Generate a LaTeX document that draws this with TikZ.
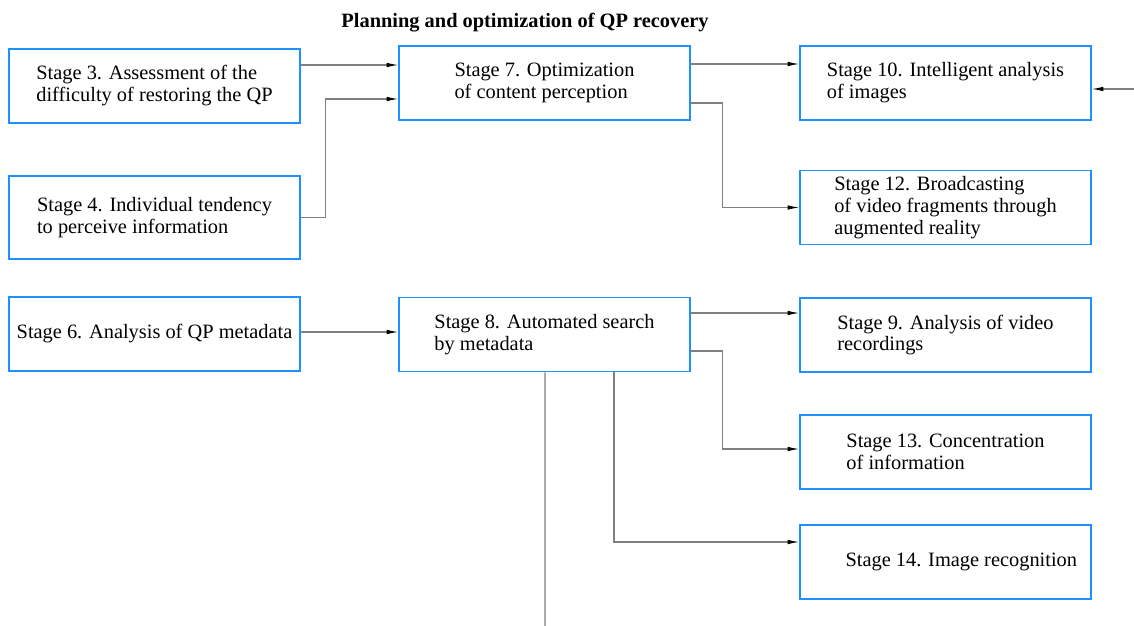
\documentclass[tikz,border=0pt]{standalone}
\usepackage{fontspec}
\setmainfont{Liberation Serif}
\usetikzlibrary{calc,arrows.meta}
\definecolor{boxblue}{RGB}{30,144,255}
\tikzset{
  stagebox/.style={draw=boxblue,line width=1pt,minimum width=5.82cm,minimum height=1.48cm,
    inner sep=0pt,align=left,font=\fontsize{11.6}{12.5}\selectfont},
  link/.style={draw=black!50,line width=0.6pt,-{Latex[length=6.5pt,width=2.6pt,color=black]}},
  plain/.style={draw=black!50,line width=0.6pt}
}

\begin{document}
\begin{tikzpicture}[x=0.02cm,y=-0.02cm]
  \useasboundingbox (0,0) rectangle (1134,626);
  \node[font=\fontsize{11.6}{12.5}\selectfont\bfseries] (title) at (525,22.5) {Planning and optimization of QP recovery};
  % left column
  \node[stagebox] (S3) at (154.5,86) {Stage 3. Assessment of the\\difficulty of restoring the QP};
  \node[stagebox,minimum height=1.66cm] (S4) at (154.5,217.5) {Stage 4. Individual tendency\\to perceive information};
  \node[stagebox] (S6) at (154.5,334) {Stage 6. Analysis of QP metadata};
  % middle column
  \node[stagebox] (S7) at (544.5,83) {Stage 7. Optimization\\of content perception};
  \node[stagebox] (S8) at (544.5,334.5) {Stage 8. Automated search\\by metadata};
  % right column
  \node[stagebox] (S10) at (945.5,83) {Stage 10. Intelligent analysis\\of images};
  \node[stagebox] (S12) at (945.5,207.5) {Stage 12. Broadcasting\\of video fragments through\\augmented reality};
  \node[stagebox] (S9) at (945.5,335) {Stage 9. Analysis of video\\recordings};
  \node[stagebox] (S13) at (945.5,452) {Stage 13. Concentration\\of information};
  \node[stagebox] (S14) at (945.5,562) {\hspace*{18pt}Stage 14. Image recognition};
  \coordinate (rightend) at (1134,89);
  \coordinate (bottomend) at (545,630);
  % connectors
  \draw[link] ($(S3.east)+(0,-21)$) coordinate (t) -- (t -| S7.west);
  \draw[link] (S4.east) -- ++(25,0) |- ($(S7.west)+(0,16)$);
  \draw[link] ($(S7.east)+(0,-19)$) coordinate (t) -- (t -| S10.west);
  \draw[link] ($(S7.east)+(0,20)$) -- ++(32,0) |- (S12.west);
  \draw[link] ($(S6.east)+(0,-2)$) coordinate (t) -- (t -| S8.west);
  \draw[link] ($(S8.east)+(0,-21.5)$) coordinate (t) -- (t -| S9.west);
  \draw[link] ($(S8.east)+(0,16.5)$) -- ++(32,0) |- ($(S13.west)+(0,-3)$);
  \draw[link] ($(S8.south)+(69.5,0)$) |- ($(S14.west)+(0,-20)$);
  \draw[plain] ($(S8.south)+(0.5,0)$) -- (bottomend);
  \draw[link] (rightend) -- (rightend -| S10.east);
\end{tikzpicture}
\end{document}
